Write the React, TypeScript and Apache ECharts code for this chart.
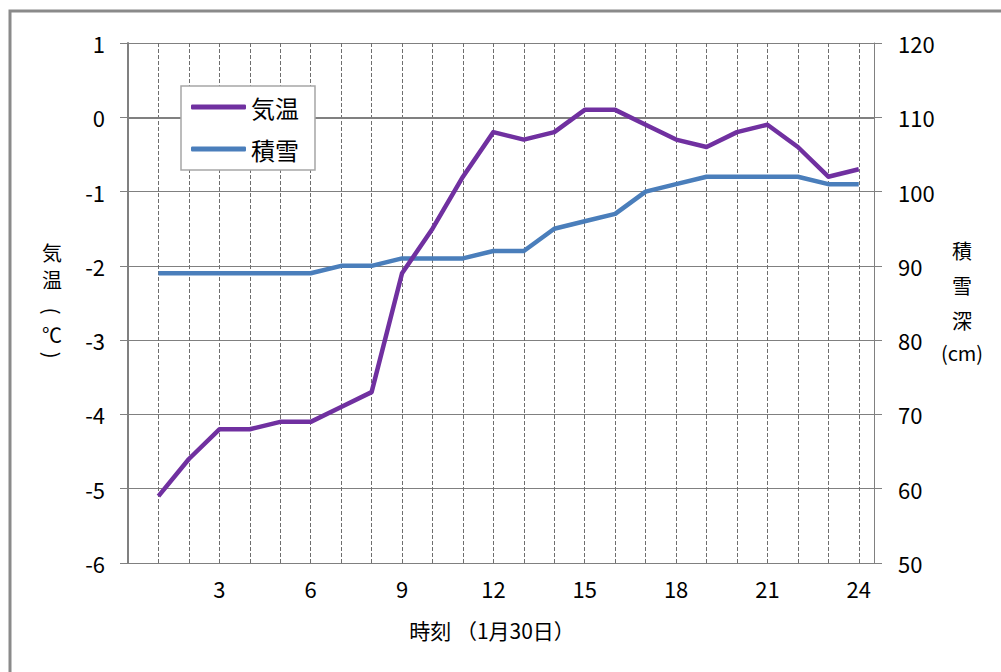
import React, { useEffect, useRef } from "react";
import * as echarts from "echarts";

const hours = [1, 2, 3, 4, 5, 6, 7, 8, 9, 10, 11, 12, 13, 14, 15, 16, 17, 18, 19, 20, 21, 22, 23, 24];
const temperature = [-5.1, -4.6, -4.2, -4.2, -4.1, -4.1, -3.9, -3.7, -2.1, -1.5, -0.8, -0.2, -0.3, -0.2, 0.1, 0.1, -0.1, -0.3, -0.4, -0.2, -0.1, -0.4, -0.8, -0.7];
const snowDepth = [89, 89, 89, 89, 89, 89, 90, 90, 91, 91, 91, 92, 92, 95, 96, 97, 100, 101, 102, 102, 102, 102, 101, 101];
const seriesNames = ["気温", "積雪"];
const xAxisTitle = "時刻 （1月30日）";
const leftAxisTitleChars = ["気", "温", "(", "℃", ")"];
const rightAxisTitleChars = ["積", "雪", "深", "(cm)"];

const FONT = "'Noto Sans CJK JP', 'Noto Sans', sans-serif";
const GRAY = "#808080";

export default function App() {
  const ref = useRef<HTMLDivElement>(null);
  useEffect(() => {
    if (!ref.current) return;
    const chart = echarts.init(ref.current, null, { renderer: "svg" });
    const tempData = hours.map((h, i) => [h, temperature[i]]);
    const snowData = hours.map((h, i) => [h, snowDepth[i]]);

    const leftYs = [252, 279, 311, 334, 355];
    const leftRot = [0, 0, -Math.PI / 2, 0, -Math.PI / 2];
    const rightYs = [250, 285, 320, 352];
    const leftTitle = leftAxisTitleChars.map((c, i) => ({
      type: "text",
      x: 52,
      y: leftYs[i],
      rotation: leftRot[i],
      style: { text: c, font: `20px ${FONT}`, fill: "#000", align: "center", verticalAlign: "middle" },
    }));
    const rightTitle = rightAxisTitleChars.map((c, i) => ({
      type: "text",
      x: 962,
      y: rightYs[i],
      style: { text: c, font: `20px ${FONT}`, fill: "#000", align: "center", verticalAlign: "middle" },
    }));

    chart.setOption({
      animation: false,
      backgroundColor: "#ffffff",
      textStyle: { fontFamily: FONT },
      grid: { left: 128, top: 43, right: 127, bottom: 109, containLabel: false },
      legend: {
        data: seriesNames,
        orient: "vertical",
        left: 181,
        top: 86,
        padding: [9, 16, 9, 10],
        itemWidth: 55,
        itemHeight: 5,
        itemGap: 18,
        icon: "roundRect",
        backgroundColor: "#ffffff",
        borderColor: "#a6a6a6",
        borderWidth: 1.5,
        textStyle: { fontFamily: FONT, fontSize: 24, lineHeight: 24, color: "#000" },
      },
      xAxis: {
        type: "value",
        min: 0,
        max: 24.5,
        interval: 1,
        axisLine: { show: true, lineStyle: { color: GRAY, width: 2 } },
        axisTick: { show: false },
        axisLabel: {
          color: "#000",
          fontSize: 22,
          fontFamily: FONT,
          margin: 14,
          formatter: (v: number) => (v > 0 && v % 3 === 0 ? String(v) : ""),
        },
        splitLine: { show: true, lineStyle: { color: "#6e6e6e", width: 1, type: [4, 2] } },
      },
      yAxis: [
        {
          type: "value",
          min: -6,
          max: 1,
          interval: 1,
          position: "left",
          axisLine: { show: true, lineStyle: { color: GRAY, width: 2 } },
          axisTick: { show: true, length: 8, lineStyle: { color: GRAY, width: 1 } },
          axisLabel: { color: "#000", fontSize: 22, fontFamily: FONT, margin: 23 },
          splitLine: { show: true, lineStyle: { color: GRAY, width: 1 } },
        },
        {
          type: "value",
          min: 50,
          max: 120,
          interval: 10,
          position: "right",
          axisLine: { show: true, lineStyle: { color: GRAY, width: 1 } },
          axisTick: { show: true, length: 8, lineStyle: { color: GRAY, width: 1 } },
          axisLabel: { color: "#000", fontSize: 22, fontFamily: FONT, margin: 24 },
          splitLine: { show: false },
        },
      ],
      series: [
        {
          name: seriesNames[1],
          type: "line",
          yAxisIndex: 1,
          data: snowData,
          symbol: "none",
          z: 2,
          color: "#4a7ebb",
          lineStyle: { color: "#4a7ebb", width: 4.5, join: "round" },
        },
        {
          name: seriesNames[0],
          type: "line",
          yAxisIndex: 0,
          data: tempData,
          symbol: "none",
          z: 3,
          color: "#7030a0",
          lineStyle: { color: "#7030a0", width: 4.5, join: "round" },
        },
      ],
      graphic: [
        {
          type: "rect",
          shape: { x: 10, y: 11, width: 1100, height: 800 },
          style: { fill: "none", stroke: "#8a8a8a", lineWidth: 3 },
          silent: true,
        },
        ...leftTitle,
        ...rightTitle,
        {
          type: "text",
          x: 492,
          y: 630,
          style: {
            text: xAxisTitle,
            font: `21px ${FONT}`,
            fill: "#000",
            align: "center",
            verticalAlign: "middle",
          },
        },
      ],
    });
    return () => chart.dispose();
  }, []);
  return (
    <div
      ref={ref}
      style={{ position: "absolute", left: 0, top: 0, width: 1001, height: 672 }}
    />
  );
}
